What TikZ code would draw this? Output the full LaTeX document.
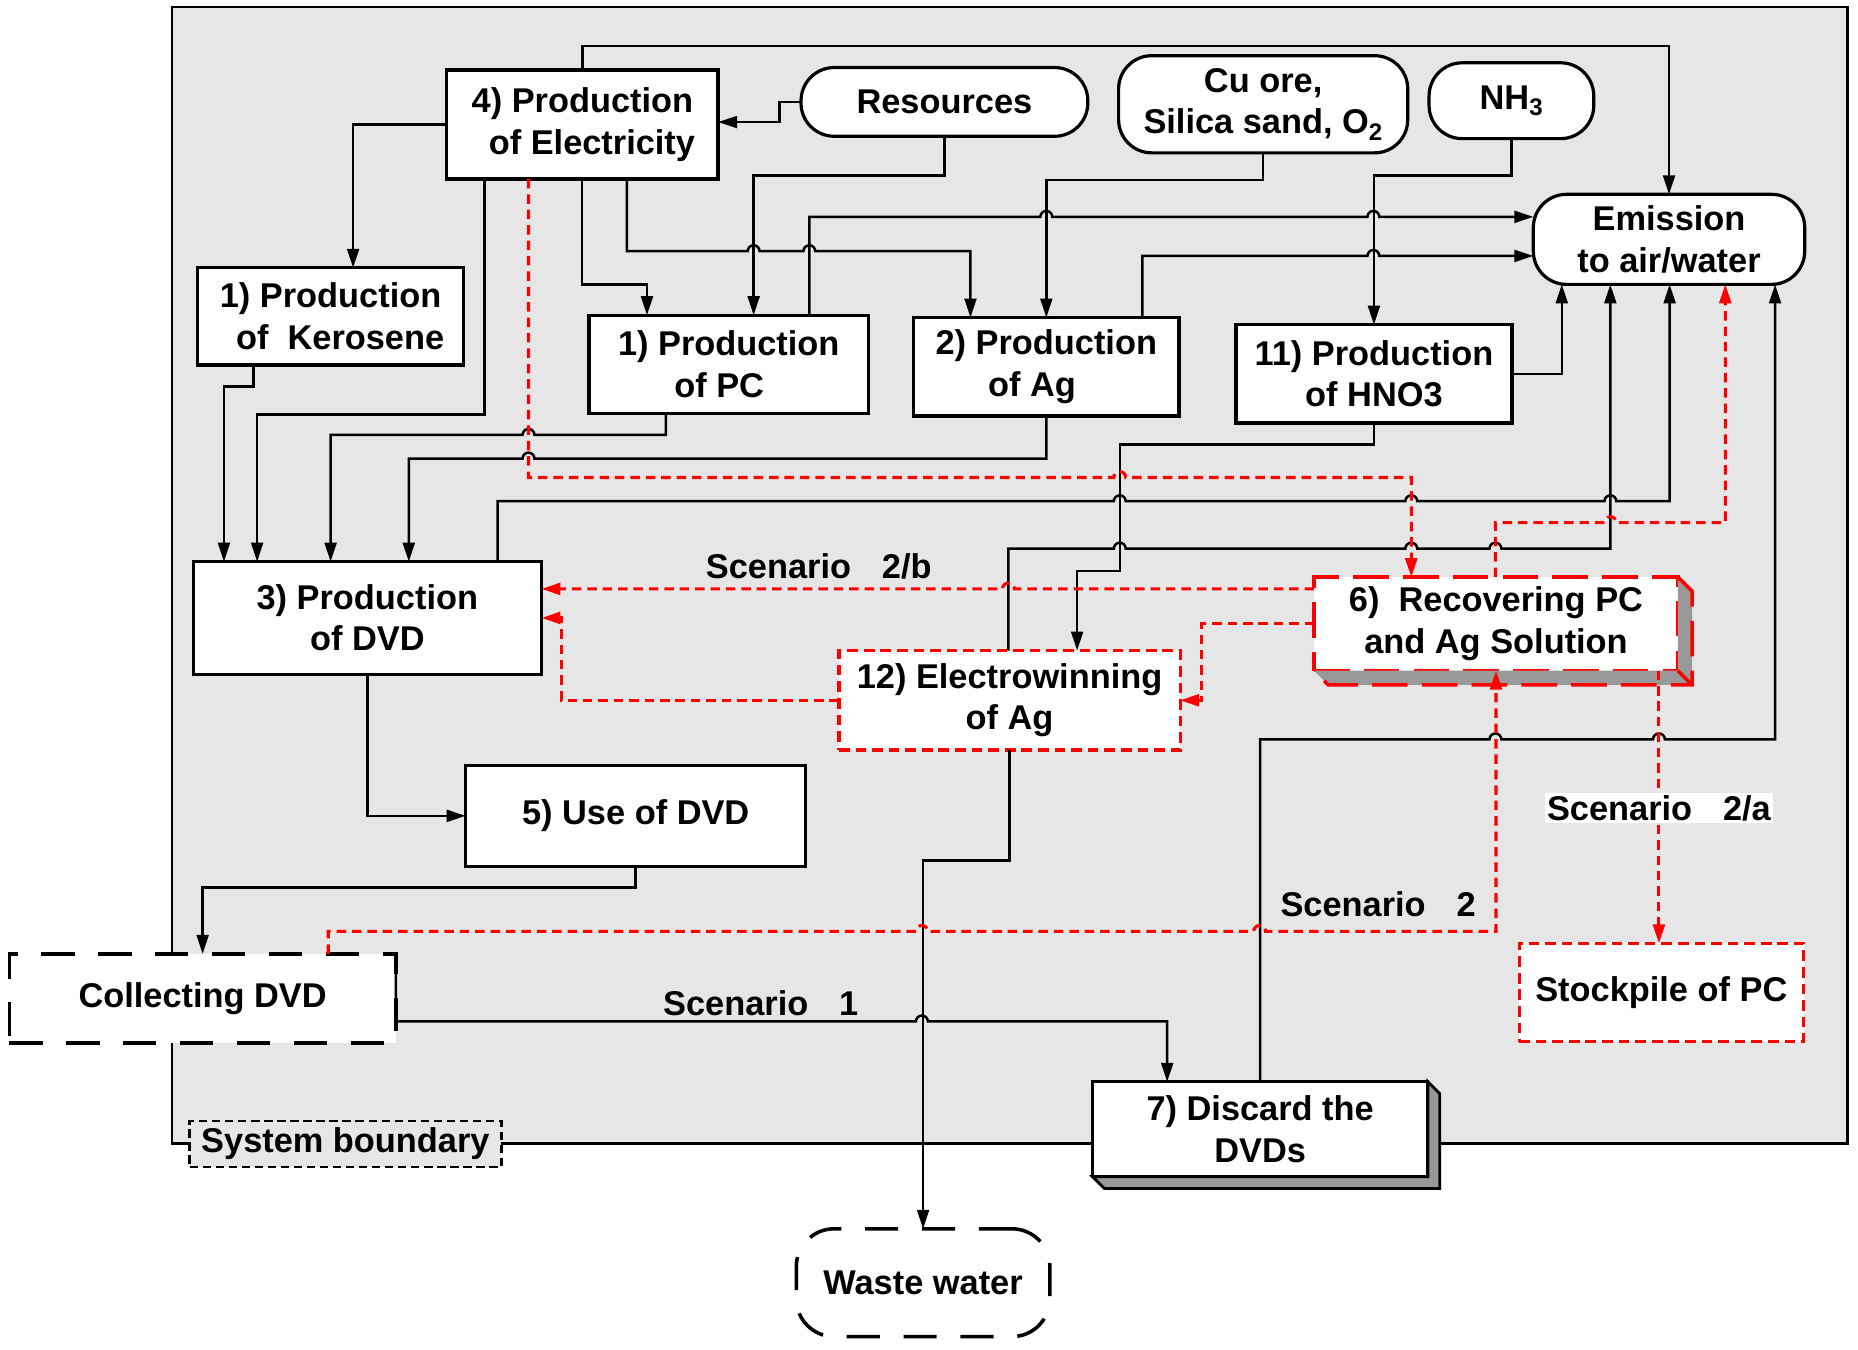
\documentclass[tikz,border=0pt]{standalone}
\usepackage{fontspec}
\setmainfont{Liberation Sans}
\usetikzlibrary{arrows.meta}

\definecolor{bggray}{RGB}{230,230,230}
\definecolor{shadowgray}{RGB}{153,153,153}

\tikzset{
  proc/.style={draw, fill=white, line width=2.7pt, inner sep=0pt, outer sep=0pt, align=center,
    font=\bfseries\fontsize{29}{35}\selectfont},
  src/.style={proc, rounded corners=28pt},
  redbox/.style={proc, draw=red, dash pattern=on 9pt off 5pt, line width=2.7pt},
  flow/.style={line width=2.1pt, -{Triangle[length=16pt,width=10pt]}},
  redflow/.style={flow, red, dash pattern=on 8pt off 5pt, line width=2.6pt},
  hopr/.style={insert path={arc[start angle=180,end angle=360,radius=5]}},
  hopl/.style={insert path={arc[start angle=0,end angle=-180,radius=5]}},
  lbl/.style={font=\bfseries\fontsize{29}{35}\selectfont, inner sep=2pt},
}

\begin{document}
\begin{tikzpicture}[x=1pt,y=-1pt]
  \useasboundingbox (0,0) rectangle (1568,1139);

  % system boundary
  \draw[fill=bggray, line width=2.2pt] (145,6) rectangle (1559,965);

  % inputs
  \node[src, minimum width=242, minimum height=58] (res) at (797,86) {Resources};
  \node[src, minimum width=244, minimum height=82] (ore) at (1066,88) {Cu ore,\\ Silica sand, O\textsubscript{2}};
  \node[src, minimum width=139, minimum height=64] (nh3) at (1275.5,85) {NH\textsubscript{3}};
  \node[src, minimum width=229, minimum height=76] (emis) at (1408.5,202) {Emission\\ to air/water};

  % production steps
  \node[proc, minimum width=229, minimum height=92] (elec) at (491.5,105) {4) Production\\ \ \ of Electricity};
  \node[proc, minimum width=224, minimum height=82] (kero) at (279,267) {1) Production\\ \ \ of\ \ Kerosene};
  \node[proc, minimum width=236, minimum height=83] (pc) at (615,307.5) {1) Production\\ of PC\ \ \ };
  \node[proc, minimum width=224, minimum height=83] (ag) at (883,309.5) {2) Production\\ of Ag\ \ \ \ };
  \node[proc, minimum width=233, minimum height=83] (hno3) at (1159.5,315.5) {11) Production\\ of HNO3};
  \node[proc, minimum width=294, minimum height=95] (dvd) at (310,521.5) {3) Production\\ of DVD};
  \node[proc, minimum width=287, minimum height=85] (use) at (536.5,688.5) {5) Use of DVD};

  % end of life
  \node[redbox, minimum width=288, minimum height=84] (elw) at (852,591) {12) Electrowinning\\ of Ag};
  \node[proc, draw=red, dash pattern=on 30pt off 12pt, line width=3pt, minimum width=307, minimum height=79] (rec) at (1262.5,526.5) {6)\ \ Recovering PC\\ and Ag Solution};
  \fill[shadowgray] (rec.north east) -- ++(12,12) -- ([shift={(12,12)}]rec.south east) -- ([shift={(12,12)}]rec.south west) -- (rec.south west) -- (rec.south east) -- cycle;
  \draw[red, dash pattern=on 30pt off 12pt, line width=3pt] (rec.north east) -- ++(12,12) -- ([shift={(12,12)}]rec.south east) -- ([shift={(12,12)}]rec.south west) -- (rec.south west);
  \draw[red, line width=3pt] (rec.south east) -- ++(12,12);
  \node[proc, dash pattern=on 28pt off 20pt, line width=3pt, minimum width=326, minimum height=75] (coll) at (171,842.5) {Collecting DVD};
  \node[proc, minimum width=283, minimum height=80] (disc) at (1063.5,953) {7) Discard the\\ DVDs};
  \filldraw[fill=shadowgray, line width=2.4pt] (disc.north east) -- ++(10,10) -- ([shift={(10,10)}]disc.south east) -- ([shift={(10,10)}]disc.south west) -- (disc.south west) -- (disc.south east) -- cycle;
  \node[redbox, minimum width=240, minimum height=83] (stock) at (1402,837.5) {Stockpile of PC};
  \node[src, dash pattern=on 28pt off 20pt, line width=3pt, rounded corners=32pt, minimum width=214, minimum height=91] (waste) at (779,1082.5) {Waste water};
  \node[proc, fill=bggray, dash pattern=on 7pt off 4pt, line width=2.2pt, minimum width=263, minimum height=39] (sysb) at (291.5,965.5) {System boundary};

  % black flows
  \draw[flow] (elec.north) |- (emis.north |- 0,39) -- (emis.north);
  \draw[flow] (res.west) -- (658,86) -- (658,103) -- (elec.east |- 0,103);
  \draw[flow] (res.south) |- (636,148) -- (pc.north -| 636,0);
  \draw[flow] (elec.west) -| (kero.north -| 298,0);
  \draw[flow] (elec.south -| 409,0) |- (217,350) -- (dvd.north -| 217,0);
  \draw[flow] (kero.south -| 214,0) |- (189,326) -- (dvd.north -| 189,0);
  \draw[flow] (elec.south -| 491,0) |- (546,240) -- (pc.north -| 546,0);
  \draw[flow] (elec.south -| 529,0) -- (529,212) -- (631,212) [hopr] -- (678,212) [hopr] -- (819,212) -- (ag.north -| 819,0);
  \draw[flow] (pc.north -| 683,0) -- (683,183) -- (878,183) [hopr] -- (1154,183) [hopr] -- (emis.west |- 0,183);
  \draw[flow] (ag.north -| 964,0) -- (964,216) -- (1154,216) [hopr] -- (emis.west |- 0,216);
  \draw[flow] (ore.south) |- (ag.north |- 0,152) -- (ag.north);
  \draw[flow] (nh3.south) |- (hno3.north |- 0,148) -- (hno3.north);
  \draw[flow] (hno3.east) -| (emis.south -| 1318,0);
  \draw[flow] (pc.south -| 562,0) -- (562,367) -- (451,367) [hopl] -- (279,367) -- (dvd.north -| 279,0);
  \draw[flow] (ag.south) -- (883,387) -- (451,387) [hopl] -- (345,387) -- (dvd.north -| 345,0);
  \draw[flow] (hno3.south) |- (945,375) -- (945,482) -| (elw.north -| 909,0);
  \draw[flow] (dvd.north -| 420,0) -- (420,423) -- (940,423) [hopr] -- (1186,423) [hopr] -- (1354,423) [hopr] -- (1409,423) -- (emis.south -| 1409,0);
  \draw[flow] (elw.north -| 851,0) -- (851,463) -- (940,463) [hopr] -- (1186,463) [hopr] -- (1257,463) [hopr] -- (1359,463) -- (emis.south -| 1359,0);
  \draw[flow] (disc.north) |- (1257,624) [hopr] -- (1395,624) [hopr] -- (1498,624) -- (emis.south -| 1498,0);
  \draw[flow] (dvd.south) |- (use.west);
  \draw[flow] (use.south) |- (coll.north |- 0,749) -- (coll.north);
  \draw[flow] (coll.north east |- 0,817) -- (334,862) -- (773,862) [hopr] -- (985,862) -- (disc.north -| 985,0);
  \draw[flow] (elw.south) |- (waste.north |- 0,726) -- (waste.north);

  % red scenario flows
  \draw[redflow] (elec.south -| 446,0) -- (446,403) -- (940,403) [hopr] -- (1191,403) -- (rec.north -| 1191,0);
  \draw[redflow] (rec.west |- 0,497) -- (856,497) [hopl] -- (dvd.east |- 0,497);
  \draw[redflow] (rec.west) -| (1014,591) -- (elw.east);
  \draw[redflow] (elw.west) -- (474,591) -- (474,521.5) -- (dvd.east);
  \draw[redflow] (rec.north -| 1262,0) -- (1262,441) -- (1354,441) [hopr] -- (1456,441) -- (emis.south -| 1456,0);
  \draw[redflow] (coll.north -| 277,0) -- (277,786) -- (773,786) [hopr] -- (1058,786) [hopr] -- (1262.5,786) -- (rec.south);
  \draw[redflow] (rec.south -| 1400,0) -- (stock.north -| 1400,0);

  % scenario labels
  \node[lbl] (s2b) at (691,478) {Scenario\hspace{0.9em}2/b};
  \node[lbl, fill=white] (s2a) at (1400,682) {Scenario\hspace{0.9em}2/a};
  \node[lbl] (s2) at (1163,763) {Scenario\hspace{0.9em}2};
  \node[lbl] (s1) at (642,847) {Scenario\hspace{0.9em}1};
\end{tikzpicture}
\end{document}
